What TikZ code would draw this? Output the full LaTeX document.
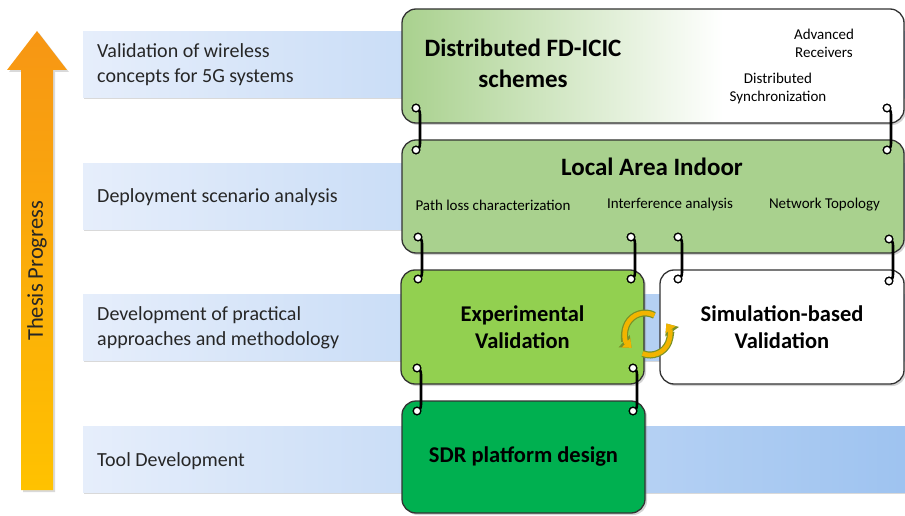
\documentclass[tikz,border=0pt]{standalone}
\usepackage{fontspec}
\setmainfont{Carlito}
\usepackage{tikz}
\usetikzlibrary{calc,shapes,backgrounds,arrows.meta,shadows,positioning}
\definecolor{bandleft}{RGB}{230,238,251}
\definecolor{bandright}{RGB}{158,195,240}
\definecolor{arrowtop}{RGB}{247,150,20}
\definecolor{arrowbot}{RGB}{255,194,0}
\definecolor{greenlai}{RGB}{169,209,142}
\definecolor{greenexp}{RGB}{146,208,80}
\definecolor{greensdr}{RGB}{0,176,80}
\definecolor{cycgold}{RGB}{242,180,0}
\definecolor{cycedge}{RGB}{120,145,40}
\pgfdeclarehorizontalshading{fdicic}{100bp}{color(0bp)=(greenlai); color(25bp)=(greenlai); color(57bp)=(white); color(100bp)=(white)}

\begin{document}
\begin{tikzpicture}[x=1pt,y=1pt]
          \useasboundingbox (0,0) rectangle (905,515);
          \tikzstyle{band}=[left color=bandleft, right color=bandright, inner sep=0pt, minimum width=822pt, minimum height=66pt, anchor=north west, drop shadow={shadow xshift=1pt, shadow yshift=-2pt, opacity=0.3}]
          \tikzstyle{bandtext}=[anchor=west, align=left, inner sep=0pt, text=black!85, font=\fontsize{20}{25}\selectfont]
          \tikzstyle{box}=[draw=black!80, line width=1.3pt, rounded corners=14pt, inner sep=0pt, align=center, drop shadow={shadow xshift=2pt, shadow yshift=-2pt, opacity=0.35}]
          \tikzstyle{bigtitle}=[font=\bfseries\fontsize{25}{31}\selectfont, align=center]
          \tikzstyle{midtitle}=[font=\bfseries\fontsize{22.5}{27}\selectfont]
          \tikzstyle{small}=[font=\fontsize{15}{18}\selectfont, align=center, inner sep=0pt]
          \tikzstyle{ring}=[circle, draw=black, fill=white, line width=1.2pt, minimum size=7.5pt, inner sep=0pt]
          \tikzstyle{wire}=[line width=2.6pt, black]
          \tikzstyle{turnarrow}=[preaction={draw=cycedge, line width=7pt, -{Triangle[width=16pt,length=10pt]}}, draw=cycgold, line width=4.6pt, -{Triangle[width=12pt,length=7.5pt]}]

          % levels
          \node[band] (L4) at (83,484) {};
          \node[band] (L3) at (83,352) {};
          \node[band] (L2) at (83,221) {};
          \node[band] (L1) at (83,89) {};
          \node[bandtext] (T4) at (97,450) {Validation of wireless\\concepts for 5G systems};
          \node[bandtext] (T3) at (97,318) {Deployment scenario analysis};
          \node[bandtext] (T2) at (97,187) {Development of practical\\approaches and methodology};
          \node[bandtext] (T1) at (97,54) {Tool Development};

          % progress arrow
          \shade[top color=arrowtop, bottom color=arrowbot, drop shadow={shadow xshift=2pt, shadow yshift=-2pt, opacity=0.3}]
            (21,25) -- (21,445) -- (7,445) -- (37,484) -- (67,445) -- (53,445) -- (53,25) -- cycle;
          \node[rotate=90, font=\fontsize{22.5}{27}\selectfont, text=black!85] (prog) at (37,244) {Thesis Progress};

          % boxes
          \node[box, shading=fdicic, minimum width=502pt, minimum height=114pt] (FD) at (653,449) {};
          \node[box, fill=greenlai, minimum width=502pt, minimum height=113pt] (LAI) at (653,318.5) {};
          \node[box, fill=greenexp, minimum width=243pt, minimum height=114pt, midtitle] (EXP) at (522.5,188) {Experimental\\Validation};
          \node[box, fill=white, minimum width=244pt, minimum height=114pt, midtitle] (SIM) at (782,188) {Simulation-based\\Validation};
          \node[box, fill=greensdr, minimum width=243pt, minimum height=112pt, midtitle] (SDR) at (523.5,58) {SDR platform design};

          % texts in the two upper boxes
          \node[bigtitle] (FDt) at (523,452) {Distributed FD-ICIC\\schemes};
          \node[small] (adv) at (824,472) {Advanced\\Receivers};
          \node[small] (sync) at (778,426.5) {Distributed\\Synchronization};
          \node[bigtitle] (LAIt) at (652,348) {Local Area Indoor};
          \node[small] (path) at (493,310) {Path loss characterization};
          \node[small] (intf) at (670,310) {Interference analysis};
          \node[small] (topo) at (824.5,310) {Network Topology};

          % rings
          \node[ring] (a1) at (416,407) {};
          \node[ring] (b1) at (416,365) {};
          \node[ring] (a2) at (887,407) {};
          \node[ring] (b2) at (887,365) {};
          \node[ring] (b3) at (418,278) {};
          \node[ring] (c1) at (418,236) {};
          \node[ring] (b4) at (631,278) {};
          \node[ring] (c2) at (631,236) {};
          \node[ring] (b5) at (678,278) {};
          \node[ring] (d1) at (678,236) {};
          \node[ring] (b6) at (889,276) {};
          \node[ring] (d2) at (889,234) {};
          \node[ring] (c3) at (417,147) {};
          \node[ring] (e1) at (417,104) {};
          \node[ring] (c4) at (633,147) {};
          \node[ring] (e2) at (633,104) {};

          % wires between the rings
          \foreach \up/\dn in {a1/b1,a2/b2,b3/c1,b4/c2,b5/d1,b6/d2,c3/e1,c4/e2}
            \draw[wire] (\up.center) to[out=0,in=90] ++(4,-7) -- ($(\dn)+(4,7)$) to[out=-90,in=0] (\dn.center);
          \foreach \r in {a1,b1,a2,b2,b3,c1,b4,c2,b5,d1,b6,d2,c3,e1,c4,e2}
            \node[ring] at (\r) {};

          % iteration between experiment and simulation
          \coordinate (cyc1) at (645,182);
          \coordinate (cyc2) at (650,180);
          \draw[turnarrow] ([shift={(62:20)}]cyc1) arc[start angle=62, end angle=228, radius=20];
          \draw[turnarrow] ([shift={(248:20)}]cyc2) arc[start angle=248, end angle=395, radius=20];
\end{tikzpicture}
\end{document}
